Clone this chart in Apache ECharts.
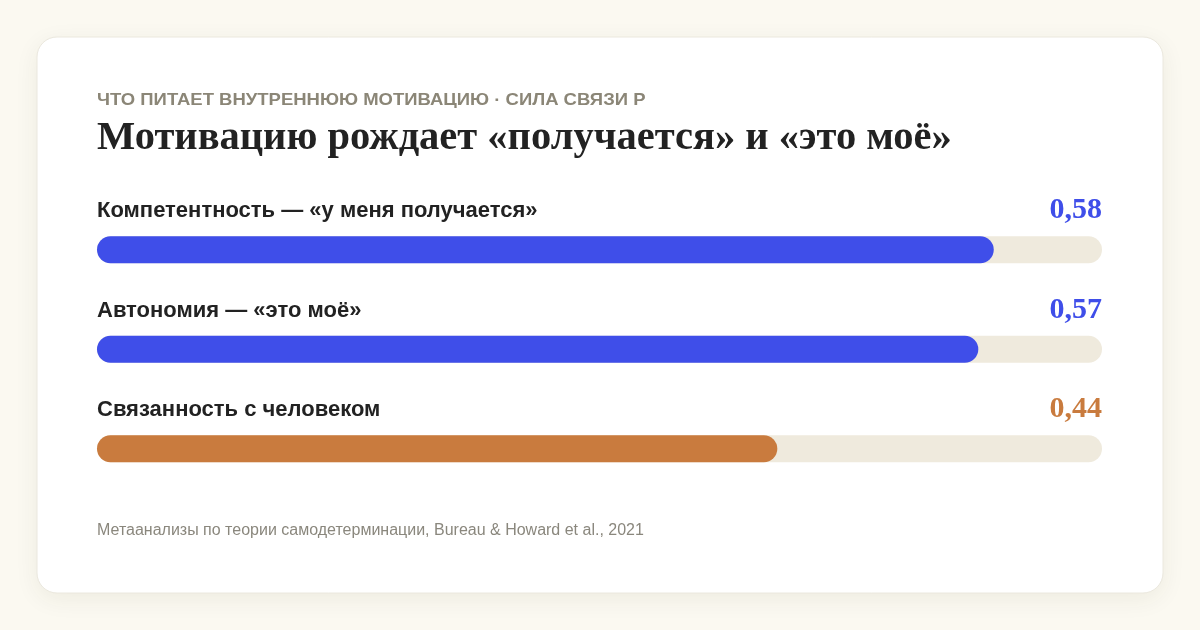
<!DOCTYPE html>
<html>
<head>
<meta charset="utf-8">
<script src="https://cdn.jsdelivr.net/npm/echarts@6/dist/echarts.min.js"></script>
<style>
  html, body { margin: 0; padding: 0; background: #fbf9f1; }
  #main { width: 1200px; height: 630px; }
</style>
</head>
<body>
<div id="main"></div>
<script>
// данные
var categories = ['Компетентность — «у меня получается»', 'Автономия — «это моё»', 'Связанность с человеком'];
var values = [0.58, 0.57, 0.44];
var colors = ['#3f4ee9', '#3f4ee9', '#c97b3e'];
var axisMax = 0.65;

var SANS = '"Liberation Sans", Arial, sans-serif';
var SERIF = '"Liberation Serif", "DejaVu Serif", serif';

function fmt(v) { return v.toFixed(2).replace('.', ','); }

var chart = echarts.init(document.getElementById('main'));

var option = {
  backgroundColor: '#fbf9f1',
  animation: false,
  graphic: [
    {
      type: 'rect', z: -10,
      shape: { x: 37, y: 37, width: 1126, height: 556, r: 20 },
      style: { fill: '#ffffff', stroke: '#ebe8de', lineWidth: 1,
        shadowBlur: 24, shadowColor: 'rgba(60,50,20,0.07)', shadowOffsetY: 6 }
    },
    {
      // разрядка заголовка — растягиваем по ширине
      type: 'text', x: 97, y: 92, scaleX: 1.12,
      style: { text: 'ЧТО ПИТАЕТ ВНУТРЕННЮЮ МОТИВАЦИЮ · СИЛА СВЯЗИ Р', fill: '#8b8677',
        font: 'bold 16.5px ' + SANS }
    },
    {
      type: 'text', left: 97, top: 118,
      style: { text: 'Мотивацию рождает «получается» и «это моё»', fill: '#222222',
        font: 'bold 40.5px ' + SERIF }
    },
    {
      type: 'text', left: 97, top: 523,
      style: { text: 'Метаанализы по теории самодетерминации, Bureau & Howard et al., 2021', fill: '#8a877d',
        font: '16px ' + SANS }
    }
  ],
  grid: { left: 97, right: 98, top: 200, height: 298.5 },
  xAxis: { type: 'value', min: 0, max: axisMax, show: false },
  yAxis: { type: 'category', data: categories, inverse: true, show: false },
  series: [
    {
      name: 'track', type: 'bar', barWidth: 27, barGap: '-100%', silent: true,
      data: categories.map(function (c, i) {
        return { value: axisMax, label: { color: colors[i] } };
      }),
      itemStyle: { color: '#efeadd', borderRadius: 13.5 },
      label: {
        show: true, position: ['100%', -26], align: 'right', verticalAlign: 'middle',
        fontFamily: SERIF, fontWeight: 'bold', fontSize: 30,
        formatter: function (p) { return fmt(values[p.dataIndex]); }
      }
    },
    {
      name: 'value', type: 'bar', barWidth: 27, silent: true,
      data: values.map(function (v, i) {
        return { value: v, itemStyle: { color: colors[i] } };
      }),
      itemStyle: { borderRadius: 13.5 },
      label: {
        show: true, position: [0, -25], align: 'left', verticalAlign: 'middle',
        color: '#222222', fontFamily: SANS, fontWeight: 'bold', fontSize: 22,
        formatter: function (p) { return p.name; }
      }
    }
  ]
};

chart.setOption(option);
</script>
</body>
</html>
